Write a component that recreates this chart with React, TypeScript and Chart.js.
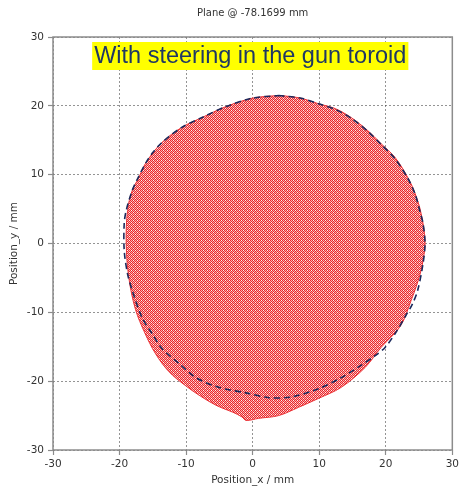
import React, { useEffect, useRef } from "react";
import { Chart, registerables } from "chart.js";

Chart.register(...registerables);

const chartTitle = "Plane @ -78.1699 mm";
const annotationText = "With steering in the gun toroid";
const xAxisTitle = "Position_x / mm";
const yAxisTitle = "Position_y / mm";
const xTicks = [-30, -20, -10, 0, 10, 20, 30];
const yTicks = [-30, -20, -10, 0, 10, 20, 30];

// Outline of the particle cloud (clockwise from the top), mm
const beamX = [4.3, 7.3, 9.9, 12.4, 14.8, 17.3, 19.3, 21.4, 23.3, 24.4, 25.3, 25.9, 25.6, 25.0, 23.8, 22.2, 19.3, 16.9, 13.3, 9.9, 6.9, 3.9, 0.9, -1.0, -1.6, -3.0, -5.3, -7.8, -10.3, -12.6, -14.6, -16.2, -17.6, -18.6, -19.0, -18.8, -18.1, -17.2, -16.0, -13.6, -10.6, -7.6, -4.0, -0.1, 2.4, 4.3];
const beamY = [21.5, 21.1, 20.3, 19.6, 18.3, 16.4, 14.5, 12.5, 9.6, 7.3, 4.4, 0.4, -2.5, -5.0, -8.3, -12.0, -15.1, -18.0, -20.9, -22.5, -23.8, -25.0, -25.4, -25.7, -25.2, -24.5, -23.6, -22.2, -20.5, -18.6, -16.0, -13.0, -9.6, -5.0, 0.0, 4.8, 7.7, 9.4, 11.8, 14.7, 16.9, 18.3, 19.9, 21.1, 21.4, 21.5];

// Fitted envelope (dashed), mm
const fitX = [3.9, 7.3, 9.9, 12.4, 14.8, 17.3, 19.3, 21.4, 23.3, 24.4, 25.1, 25.6, 25.9, 25.6, 24.8, 24.0, 23.0, 21.6, 19.9, 18.4, 15.8, 13.3, 9.9, 5.8, 2.4, -1.0, -5.1, -8.5, -11.1, -13.6, -15.1, -16.6, -18.1, -18.8, -19.3, -19.3, -19.0, -18.1, -17.3, -16.0, -15.1, -13.6, -10.6, -7.6, -4.0, -0.1, 3.9];
const fitY = [21.5, 21.1, 20.3, 19.5, 18.2, 16.3, 14.4, 12.3, 9.5, 7.2, 4.8, 2.9, 0.0, -2.9, -6.8, -8.8, -10.5, -12.8, -15.1, -16.3, -18.0, -19.5, -21.1, -22.3, -22.4, -21.7, -20.9, -19.5, -17.4, -15.3, -13.1, -10.8, -6.8, -4.4, -1.0, 2.9, 4.8, 7.7, 9.4, 11.8, 13.1, 14.7, 16.9, 18.3, 19.9, 21.1, 21.5];

function makeDotPattern(): CanvasPattern | string {
  const c = document.createElement("canvas");
  c.width = 4;
  c.height = 4;
  const g = c.getContext("2d");
  if (!g) return "rgb(240,110,110)";
  g.fillStyle = "rgb(252,172,172)";
  g.fillRect(0, 0, 4, 4);
  g.fillStyle = "rgb(232,40,44)";
  for (let y = 0; y < 4; y++) {
    for (let x = 0; x < 4; x++) {
      if ((x + y) % 2 === 0) g.fillRect(x, y, 1, 1);
    }
  }
  g.fillStyle = "rgb(255,240,240)";
  g.fillRect(1, 0, 1, 1);
  g.fillRect(3, 2, 1, 1);
  return g.createPattern(c, "repeat") || "rgb(240,110,110)";
}

const overlayPlugin = {
  id: "overlay",
  afterDraw(chart: any) {
    const { ctx, chartArea: a } = chart;
    ctx.save();
    ctx.setLineDash([]);
    ctx.strokeStyle = "#8c8c8c";
    ctx.lineWidth = 1.5;
    ctx.strokeRect(a.left, a.top, a.right - a.left, a.bottom - a.top);

    ctx.fillStyle = "#333";
    ctx.font = '10px "DejaVu Sans"';
    ctx.textAlign = "center";
    ctx.textBaseline = "middle";
    ctx.fillText(chartTitle, (a.left + a.right) / 2, 13);

    ctx.font = '23.5px "Liberation Sans"';
    const w = ctx.measureText(annotationText).width;
    const cx = a.left + (a.right - a.left) * 0.494;
    ctx.fillStyle = "#ffff00";
    ctx.fillRect(cx - w / 2 - 2, a.top + 5, w + 4, 28);
    ctx.fillStyle = "#1f3864";
    ctx.fillText(annotationText, cx, a.top + 20);
    ctx.restore();
  },
};

export default function App() {
  const ref = useRef<HTMLCanvasElement>(null);

  useEffect(() => {
    if (!ref.current) return;
    const pattern = makeDotPattern();
    const tickFont = { family: "DejaVu Sans", size: 10.5 };
    const titleFont = { family: "DejaVu Sans", size: 10.5 };
    const gridCommon = {
      color: "rgba(60,60,60,0.55)",
      lineWidth: 1,
      tickLength: 5,
      tickColor: "#8c8c8c",
      tickBorderDash: [],
      tickWidth: 1.2,
    };
    const chart = new Chart(ref.current, {
      type: "scatter",
      data: {
        datasets: [
          {
            label: "fit",
            data: fitX.map((x, i) => ({ x, y: fitY[i] })),
            showLine: true,
            fill: false,
            borderColor: "#1b2a5c",
            borderWidth: 1.6,
            borderDash: [6, 4],
            pointRadius: 0,
            tension: 0.3,
            order: 0,
          } as any,
          {
            label: "beam",
            data: beamX.map((x, i) => ({ x, y: beamY[i] })),
            showLine: true,
            fill: "shape",
            backgroundColor: pattern as any,
            borderColor: "rgb(235,50,54)",
            borderWidth: 1,
            pointRadius: 0,
            tension: 0.35,
            order: 1,
          } as any,
        ],
      },
      options: {
        responsive: false,
        animation: false,
        layout: { padding: { top: 37, right: 8, left: 0, bottom: 0 } },
        plugins: { legend: { display: false }, tooltip: { enabled: false } },
        scales: {
          x: {
            type: "linear",
            min: -30,
            max: 30,
            z: 1,
            afterBuildTicks: (s: any) => {
              s.ticks = xTicks.map((v) => ({ value: v }));
            },
            afterFit: (s: any) => {
              s.height = 41;
            },
            ticks: { color: "#333", font: tickFont, padding: 3, maxRotation: 0 },
            grid: gridCommon,
            border: { display: false, dash: [2, 2] },
            title: { display: true, text: xAxisTitle, color: "#333", font: titleFont, padding: { top: 0, bottom: 4 } },
          },
          y: {
            type: "linear",
            min: -30,
            max: 30,
            z: 1,
            afterBuildTicks: (s: any) => {
              s.ticks = yTicks.map((v) => ({ value: v }));
            },
            afterFit: (s: any) => {
              s.width = 53;
            },
            ticks: { color: "#333", font: tickFont, padding: 4 },
            grid: gridCommon,
            border: { display: false, dash: [2, 2] },
            title: { display: true, text: yAxisTitle, color: "#333", font: titleFont, padding: { top: 8, bottom: 0 } },
          },
        },
      } as any,
      plugins: [overlayPlugin],
    });
    return () => chart.destroy();
  }, []);

  return (
    <div style={{ position: "absolute", left: 0, top: 0, width: 462, height: 491, background: "#fff" }}>
      <canvas ref={ref} width={462} height={491} />
    </div>
  );
}
